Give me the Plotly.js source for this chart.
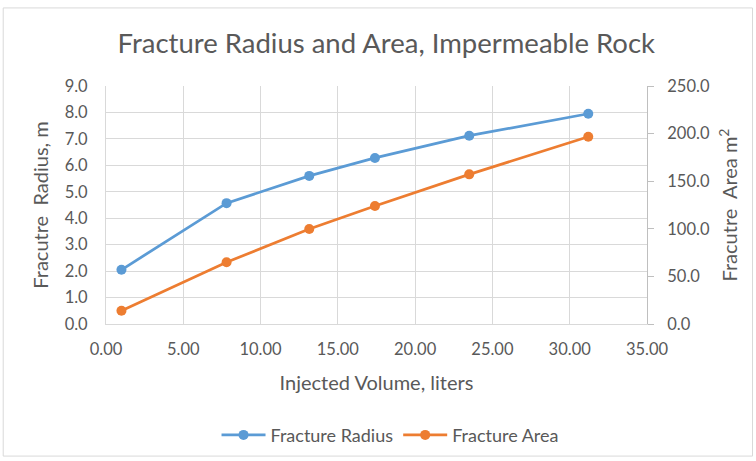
<!DOCTYPE html>
<html>
<head>
<meta charset="utf-8">
<script src="https://cdn.plot.ly/plotly-3.0.1.min.js"></script>
<style>html,body{margin:0;padding:0;background:#fff;}#chart{width:756px;height:461px;}</style>
</head>
<body>
<div id="chart"></div>
<script>
const injectedVolume = [1.0, 7.8, 13.15, 17.4, 23.5, 31.2];
const fractureRadius = [2.05, 4.57, 5.6, 6.28, 7.12, 7.95];
const fractureArea = [14.0, 64.8, 99.8, 124.0, 157.2, 196.7];

const fontFam = 'Lato, "Open Sans", sans-serif';
const gray = '#595959';

const traces = [
  {x: injectedVolume, y: fractureRadius, name: 'Fracture Radius', type: 'scatter', mode: 'lines+markers',
   line: {color: '#5B9BD5', width: 2.75}, marker: {color: '#5B9BD5', size: 10}, yaxis: 'y'},
  {x: injectedVolume, y: fractureArea, name: 'Fracture Area', type: 'scatter', mode: 'lines+markers',
   line: {color: '#ED7D31', width: 2.75}, marker: {color: '#ED7D31', size: 10}, yaxis: 'y2'}
];

const layout = {
  width: 756, height: 461,
  margin: {l: 106, r: 109, t: 86, b: 137},
  paper_bgcolor: '#fff', plot_bgcolor: '#fff',
  font: {family: fontFam, color: gray, size: 17},
  title: {text: 'Fracture Radius and Area, Impermeable Rock', x: 0.511, xanchor: 'center', y: 0.905, yanchor: 'middle',
          font: {family: fontFam, size: 27.5, color: '#595959'}},
  xaxis: {range: [0, 35], dtick: 5, tick0: 0, tickformat: '.2f', showgrid: true, gridcolor: '#D9D9D9', gridwidth: 1,
          zeroline: false, showline: true, linecolor: '#D9D9D9', ticks: '', ticklabelstandoff: 10, automargin: false,
          tickfont: {size: 16.5, color: gray},
          title: {text: 'Injected Volume, liters', standoff: 18, font: {size: 20, color: gray}}},
  yaxis: {range: [0, 9], dtick: 1, tick0: 0, tickformat: '.1f', showgrid: true, gridcolor: '#D9D9D9', gridwidth: 1,
          zeroline: false, showline: true, linecolor: '#D9D9D9', ticks: '', ticklabelstandoff: 14, automargin: false,
          tickfont: {size: 16.5, color: gray},
          title: {text: 'Fracutre  Radius, m', standoff: 10, font: {size: 20, color: gray}}},
  yaxis2: {range: [0, 250], dtick: 50, tick0: 0, tickformat: '.1f', overlaying: 'y', side: 'right',
           showgrid: false, zeroline: false, showline: true, linecolor: '#BFBFBF', ticks: 'outside', ticklen: 6,
           tickcolor: '#BFBFBF', ticklabelstandoff: 10, automargin: false, tickfont: {size: 16.5, color: gray},
           title: {text: 'Fracutre  Area m<sup>2</sup>', standoff: 14, font: {size: 20, color: gray}}},
  legend: {orientation: 'h', x: 0.525, xanchor: 'center', xref: 'paper', y: 0.056, yref: 'container', yanchor: 'middle',
           font: {size: 18, color: gray}, itemwidth: 44, tracegroupgap: 0},
  shapes: [{type: 'rect', xref: 'paper', yref: 'paper', x0: -0.19, x1: 1.195, y0: -0.555, y1: 1.328,
            line: {color: '#D9D9D9', width: 1}, fillcolor: 'rgba(0,0,0,0)', layer: 'below'}],
  showlegend: true
};

Plotly.newPlot('chart', traces, layout, {displayModeBar: false, staticPlot: true});
</script>
</body>
</html>
